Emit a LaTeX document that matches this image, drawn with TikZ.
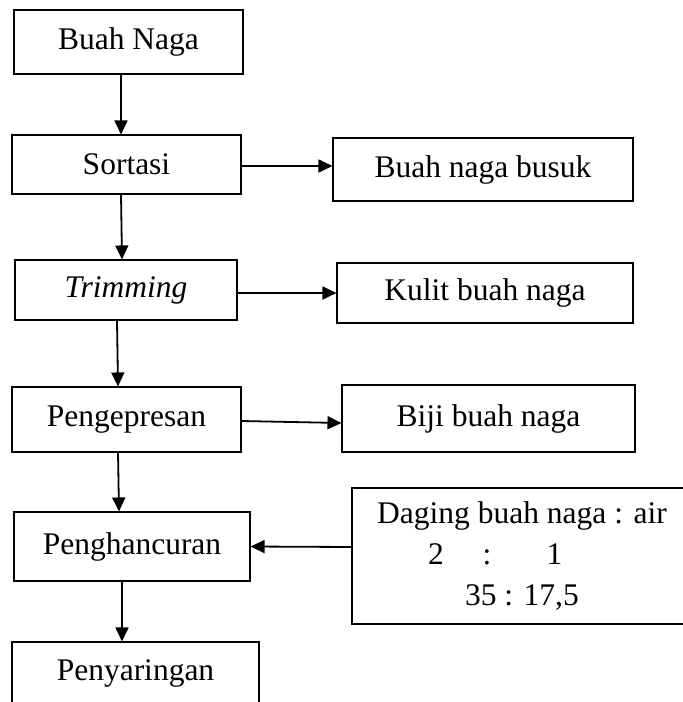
\documentclass[tikz,border=0pt]{standalone}
\usepackage{fontspec}
\setmainfont{Liberation Serif}
\usetikzlibrary{arrows.meta}
\begin{document}
\begin{tikzpicture}[x=1pt,y=-1pt,
  box/.style={draw, line width=1.1pt, inner sep=0pt, font=\fontsize{31.5}{41}\selectfont, align=center},
  arr/.style={line width=1.8pt, -{Triangle[length=14pt,width=13pt]}}]
\useasboundingbox (0,0) rectangle (683,702);
\clip (0,0) rectangle (683,702);
\node[box, minimum width=229pt, minimum height=64pt] (A) at (128.5,42) {Buah Naga};
\node[box, minimum width=229pt, minimum height=59pt] (B) at (126.5,164.5) {Sortasi};
\node[box, minimum width=300pt, minimum height=63pt] (C) at (483,169.5) {Buah naga busuk};
\node[box, minimum width=222pt, minimum height=60pt] (D) at (126,290) {\itshape Trimming};
\node[box, minimum width=296pt, minimum height=60pt] (E) at (485,293) {Kulit buah naga};
\node[box, minimum width=229pt, minimum height=65pt] (F) at (126.5,419.5) {Pengepresan};
\node[box, minimum width=293pt, minimum height=67pt] (G) at (488.5,418.5) {Biji buah naga};
\node[box, minimum width=236pt, minimum height=69pt] (H) at (132,546.5) {Penghancuran};
\node[box, minimum width=340pt, minimum height=136pt] (I) at (522,556)
  {Daging buah naga : air\\\makebox[188pt][l]{2\hspace{39pt}:\hspace{55pt}1}\\35 : 17,5};
\node[box, minimum width=247pt, minimum height=62pt] (J) at (135.5,673) {Penyaringan};
\draw[arr] ([xshift=-7.5pt]A.south) -- ([xshift=-5.5pt]B.north);
\draw[arr] ([yshift=-1.5pt]B.east) -- ([yshift=3.5pt]C.west);
\draw[arr] ([xshift=-5.5pt]B.south) -- ([xshift=-4pt]D.north);
\draw[arr] ([yshift=-3pt]D.east) -- (E.west);
\draw[arr] ([xshift=-9pt]D.south) -- ([xshift=-8.5pt]F.north);
\draw[arr] ([yshift=-1.5pt]F.east) -- ([yshift=-4.5pt]G.west);
\draw[arr] ([xshift=-8.5pt]F.south) -- ([xshift=-13pt]H.north);
\draw[arr] ([yshift=9pt]I.west) -- (H.east);
\draw[arr] ([xshift=-10pt]H.south) -- ([xshift=-13.5pt]J.north);
\end{tikzpicture}
\end{document}
